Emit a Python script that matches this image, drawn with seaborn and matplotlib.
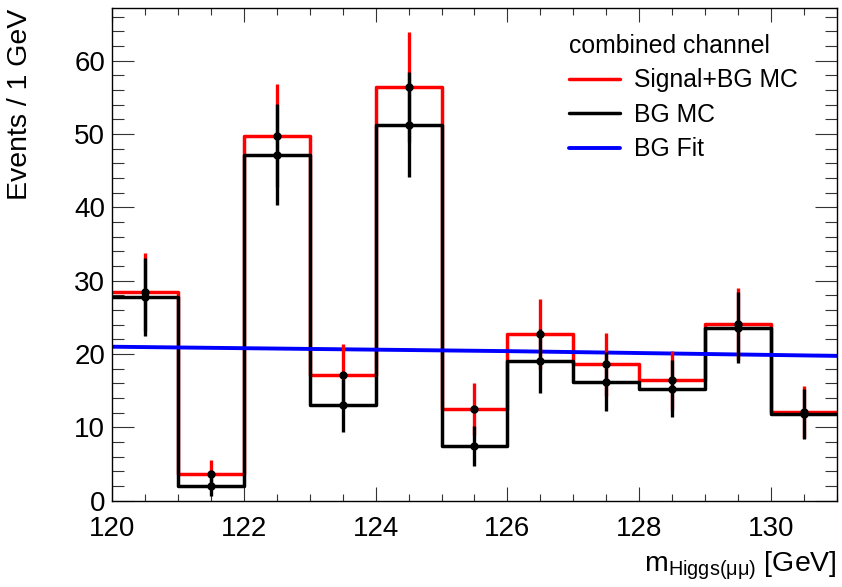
import numpy as np
import pandas as pd
import seaborn as sns
import matplotlib
matplotlib.use("Agg")
import matplotlib.pyplot as plt
from matplotlib.ticker import MultipleLocator

# bin edges / centres in GeV
bin_edges = [120, 121, 122, 123, 124, 125, 126, 127, 128, 129, 130, 131]
bin_centers = [120.5, 121.5, 122.5, 123.5, 124.5, 125.5, 126.5, 127.5, 128.5, 129.5, 130.5]

# events per bin
sig_bg_mc = [28.5, 3.7, 49.8, 17.2, 56.4, 12.5, 22.7, 18.6, 16.4, 24.1, 12.1]
sig_bg_err = [5.34, 1.92, 7.06, 4.15, 7.51, 3.54, 4.76, 4.31, 4.05, 4.91, 3.48]
bg_mc = [27.8, 2.0, 47.2, 13.0, 51.3, 7.5, 19.1, 16.2, 15.3, 23.6, 11.8]
bg_err = [5.27, 1.41, 6.87, 3.61, 7.16, 2.74, 4.37, 4.02, 3.91, 4.86, 3.44]

# background fit curve
fit_mass = [120, 126, 131]
fit_events = [21.0, 20.4, 19.75]

sns.set_style("ticks")
plt.rcParams["font.family"] = ["Liberation Sans", "DejaVu Sans"]
plt.rcParams["mathtext.fontset"] = "custom"
plt.rcParams["mathtext.rm"] = "Liberation Sans"
plt.rcParams["mathtext.it"] = "Liberation Sans"
plt.rcParams["text.color"] = "black"
plt.rcParams["axes.labelcolor"] = "black"
plt.rcParams["xtick.labelcolor"] = "black"
plt.rcParams["ytick.labelcolor"] = "black"
plt.rcParams["axes.edgecolor"] = "black"

df = pd.DataFrame({"mass": bin_centers, "sig": sig_bg_mc, "bg": bg_mc})
fit_df = pd.DataFrame({"mass": fit_mass, "events": fit_events})

fig = plt.figure(figsize=(8.42, 5.87), dpi=100)
ax = fig.add_axes([0.133, 0.1470, 0.861, 0.8388])

sns.histplot(data=df, x="mass", weights="sig", bins=bin_edges, element="step",
             fill=False, color="#ff0000", linewidth=2.5, ax=ax, label="Signal+BG MC")
sns.histplot(data=df, x="mass", weights="bg", bins=bin_edges, element="step",
             fill=False, color="black", linewidth=2.5, ax=ax, label="BG MC")
sns.lineplot(data=fit_df, x="mass", y="events", color="#0000ff", linewidth=2.8,
             ax=ax, label="BG Fit")

ax.errorbar(bin_centers, sig_bg_mc, yerr=sig_bg_err, fmt="o", color="#ff0000",
            mfc="black", mec="black", ms=5, elinewidth=2.4, capsize=0, zorder=4)
ax.errorbar(bin_centers, bg_mc, yerr=bg_err, fmt="o", color="black",
            mfc="black", mec="black", ms=5, elinewidth=2.4, capsize=0, zorder=5)

ax.set_xlim(120, 131)
ax.set_ylim(0, 67.15)
ax.xaxis.set_major_locator(MultipleLocator(2))
ax.xaxis.set_minor_locator(MultipleLocator(0.5))
ax.yaxis.set_major_locator(MultipleLocator(10))
ax.yaxis.set_minor_locator(MultipleLocator(2))
ax.tick_params(axis="both", which="both", direction="in", top=True, right=True,
               labelsize=20, width=0.8, color="#333333")
ax.tick_params(axis="x", which="major", length=10, pad=11)
ax.tick_params(axis="x", which="minor", length=5.3)
ax.tick_params(axis="y", which="major", length=15.6, pad=5)
ax.tick_params(axis="y", which="minor", length=8.4)
for s in ax.spines.values():
    s.set_linewidth(1.0)

ax.set_ylabel("Events / 1 GeV", fontsize=20.5, loc="top")
ax.yaxis.set_label_coords(-0.109, 1.0)
ax.set_xlabel(r"m$_{\mathrm{Higgs(μμ)}}$ [GeV]", fontsize=20.5, loc="right")
ax.xaxis.set_label_coords(1.0, -0.1)

handles, labels = ax.get_legend_handles_labels()
leg = ax.legend(handles[:3], labels[:3], title="combined channel", title_fontsize=17.8,
                fontsize=17.8, frameon=False, loc="upper left",
                bbox_to_anchor=(0.661, 0.963), bbox_transform=fig.transFigure,
                borderpad=0, handlelength=2.07, handletextpad=0.58, labelspacing=0.42,
                alignment="left")

fig.savefig("out.png", dpi=100)
